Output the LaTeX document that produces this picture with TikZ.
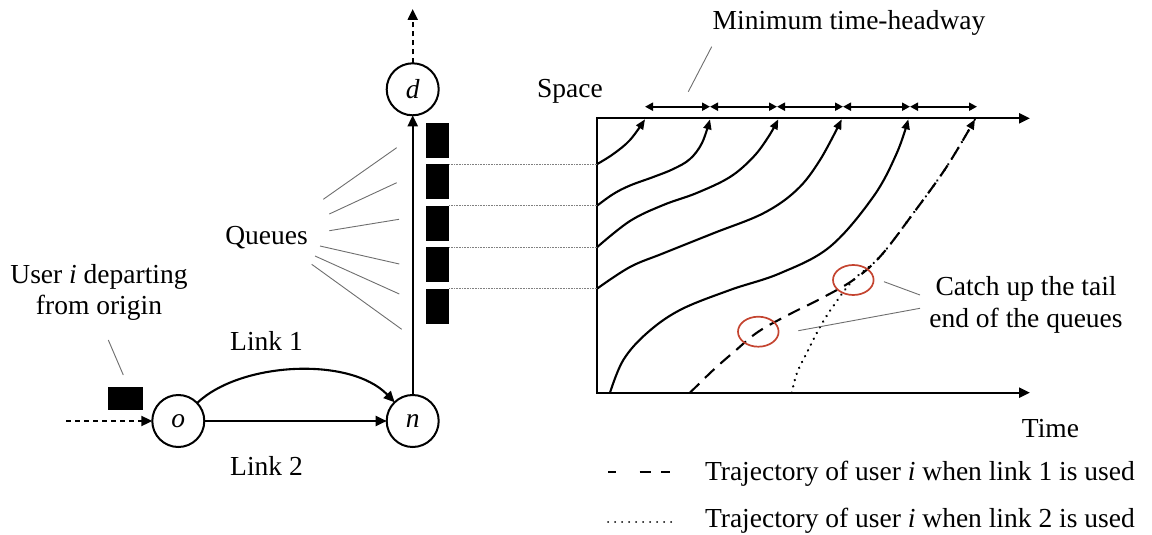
\documentclass[tikz,border=0pt]{standalone}
\usepackage{fontspec}
\setmainfont{Liberation Serif}
\usetikzlibrary{arrows.meta,shapes.geometric}
\definecolor{catchred}{RGB}{196,68,48}
\definecolor{leadgray}{RGB}{110,110,110}
\begin{document}
\begin{tikzpicture}[x=1pt,y=-1pt,
  font=\fontsize{27.5}{32}\selectfont,
  every node/.style={inner sep=0pt,outer sep=0pt},
  vnode/.style={circle,draw,line width=2pt,minimum size=52pt,inner sep=0pt},
  link/.style={line width=2.1pt,-{Triangle[length=11pt,width=10pt]}},
  feed/.style={line width=2.1pt,dash pattern=on 5pt off 4pt,-{Triangle[length=11pt,width=10pt]}},
  leader/.style={leadgray,line width=0.9pt},
  qblock/.style={fill=black,minimum width=23pt,minimum height=35pt},
  qline/.style={gray,line width=0.6pt,densely dotted},
  axis/.style={line width=2.3pt,{Triangle[length=11pt,width=10pt]}-{Triangle[length=11pt,width=10pt]}},
  hw/.style={line width=2pt,{Triangle[length=8pt,width=8pt]}-{Triangle[length=8pt,width=8pt]}},
  traj/.style={line width=2.1pt,-{Triangle[length=10pt,width=8pt]}},
  dashtraj/.style={line width=2.1pt,dash pattern=on 13pt off 8pt},
  dottraj/.style={line width=2.6pt,line cap=round,dash pattern=on 0.01pt off 6.5pt},
  catch/.style={ellipse,draw=catchred,line width=1.7pt,minimum width=40.6pt,minimum height=30pt}
]
\useasboundingbox (0,0) rectangle (1152,535);

% ---------------- network ----------------
\node[vnode] (o) at (178.3,421) {\textit{o}};
\node[vnode] (n) at (412.7,421) {\textit{n}};
\node[vnode] (d) at (412.7,89.3) {\textit{d}};
\coordinate (src) at (66,421);
\coordinate (sink) at (412.7,9);
\draw[feed] (src) -- (o);
\draw[feed] (d) -- (sink);
\draw[link] (o) -- (n);
\draw[link] (o) .. controls (240,362) and (350,356) .. (n);
\draw[link] (n) -- (d);

\node[anchor=base] (link1) at (266.5,350) {Link 1};
\node[anchor=base] (link2) at (266.5,475) {Link 2};

% user block
\node[fill=black,minimum width=35pt,minimum height=22.7pt] (user) at (125.8,398.7) {};
\node[anchor=base] (user1) at (99,283) {User \textit{i} departing};
\node[anchor=base] (user2) at (99,314.5) {from origin};
\coordinate (ul1) at (108.3,340);
\coordinate (ul2) at (123.3,375);
\draw[leader] (ul1) -- (ul2);

% queues
\foreach \i/\y in {1/140,2/181.5,3/223,4/264.5,5/306}
  \node[qblock] (q\i) at (437.7,\y) {};
\node[anchor=base] (queues) at (266.5,244) {Queues};
\foreach \k/\ax/\ay/\bx/\by in {1/323.3/199.3/396.7/147.7, 2/329.3/214/396.7/182.7,
  3/329.3/230.7/399/219.3, 4/320/246/399.3/264, 5/315/256/399.3/294, 6/311.7/264.3/401.7/329.3}{
  \coordinate (qa\k) at (\ax,\ay);
  \coordinate (qb\k) at (\bx,\by);
  \draw[leader] (qa\k) -- (qb\k);
}

% ---------------- chart ----------------
\coordinate (TL) at (597.3,118.3);
\coordinate (BL) at (597.3,392.7);
\coordinate (TR) at (1030,118.3);
\coordinate (BR) at (1030,392.7);
\draw[axis,line join=miter] (TR) -- (TL) -- (BL) -- (BR);
\node[anchor=base] (space) at (570,97) {Space};
\node[anchor=base] (time) at (1050.5,437.5) {Time};

% queue levels
\foreach \i in {2,3,4,5}{
  \coordinate (s\i) at (TL |- q\i.north);
  \draw[qline] (q\i.north east) -- (s\i);
}

% headway arrows
\foreach \i/\x in {0/645,1/710,2/777,3/843,4/910,5/977}
  \coordinate (h\i) at (\x,106.7);
\foreach \a/\b in {0/1,1/2,2/3,3/4,4/5}
  \draw[hw] (h\a) -- (h\b);
\node[anchor=base] (mth) at (849,30) {Minimum time-headway};
\coordinate (ml1) at (688.3,91.7);
\coordinate (ml2) at (711.7,46.7);
\draw[leader] (ml1) -- (ml2);

% vehicle trajectories
\draw[traj] plot[smooth,tension=0.6] coordinates {(s2) (613.3,154) (630,140) (645,119.3)};
\draw[traj] plot[smooth,tension=0.6] coordinates {(s3) (613.3,194) (630,185.5) (653.3,177) (673.3,169) (690,159) (702,143) (710,119.3)};
\draw[traj] plot[smooth,tension=0.6] coordinates {(s4) (630,221) (663.3,205) (696.7,193) (730,177) (753.3,157) (768.3,137) (778.3,119.3)};
\draw[traj] plot[smooth,tension=0.6] coordinates {(s5) (630,267) (663.3,253.3) (713.3,233.3) (763.3,213.3) (796.7,190) (820,160) (841.7,119.3)};
\draw[traj] plot[smooth,tension=0.6] coordinates {(610,392.7) (623.3,360) (646.7,333.3) (680,310) (730,290) (780,273.3) (830,246.7) (873.3,196.7) (896.7,153.3) (908.3,119.3)};

% user i trajectories
\draw[dottraj] plot[smooth,tension=0.6] coordinates {(791.7,392.7) (797,373) (806.7,353) (820,327) (834,305) (853.3,280) (880,256.7) (913.3,213.3) (946.7,166.7) (975,119.3)};
\draw[dashtraj,-{Triangle[length=10pt,width=8pt]}] plot[smooth,tension=0.6] coordinates {(690,392.7) (713.3,370) (735,351) (758.3,331.7) (790,314) (820,299) (853.3,280) (880,256.7) (913.3,213.3) (946.7,166.7) (975,119.3)};

% catch-up marks
\node[catch] (r1) at (758.3,331.7) {};
\node[catch] (r2) at (853.3,280) {};
\node[anchor=base] (catch1) at (1026,295) {Catch up the tail};
\node[anchor=base] (catch2) at (1026,327) {end of the queues};
\coordinate (cl1a) at (884,281.7);
\coordinate (cl1b) at (920,295);
\coordinate (cl2a) at (798.3,330.7);
\coordinate (cl2b) at (920,308.3);
\draw[leader] (cl1a) -- (cl1b);
\draw[leader] (cl2a) -- (cl2b);

% legend
\coordinate (la1) at (608,472.3);
\coordinate (lb1) at (673.3,472.3);
\coordinate (la2) at (608,522);
\coordinate (lb2) at (673,522);
\draw[line width=2.2pt,dash pattern=on 8.3pt off 23.3pt on 11.7pt off 10pt] (la1) -- (lb1);
\draw[line width=2pt,line cap=round,dash pattern=on 0.01pt off 7pt] (la2) -- (lb2);
\node[anchor=base west] (leg1) at (705,480) {Trajectory of user \textit{i} when link 1 is used};
\node[anchor=base west] (leg2) at (705,527.5) {Trajectory of user \textit{i} when link 2 is used};
\end{tikzpicture}
\end{document}
